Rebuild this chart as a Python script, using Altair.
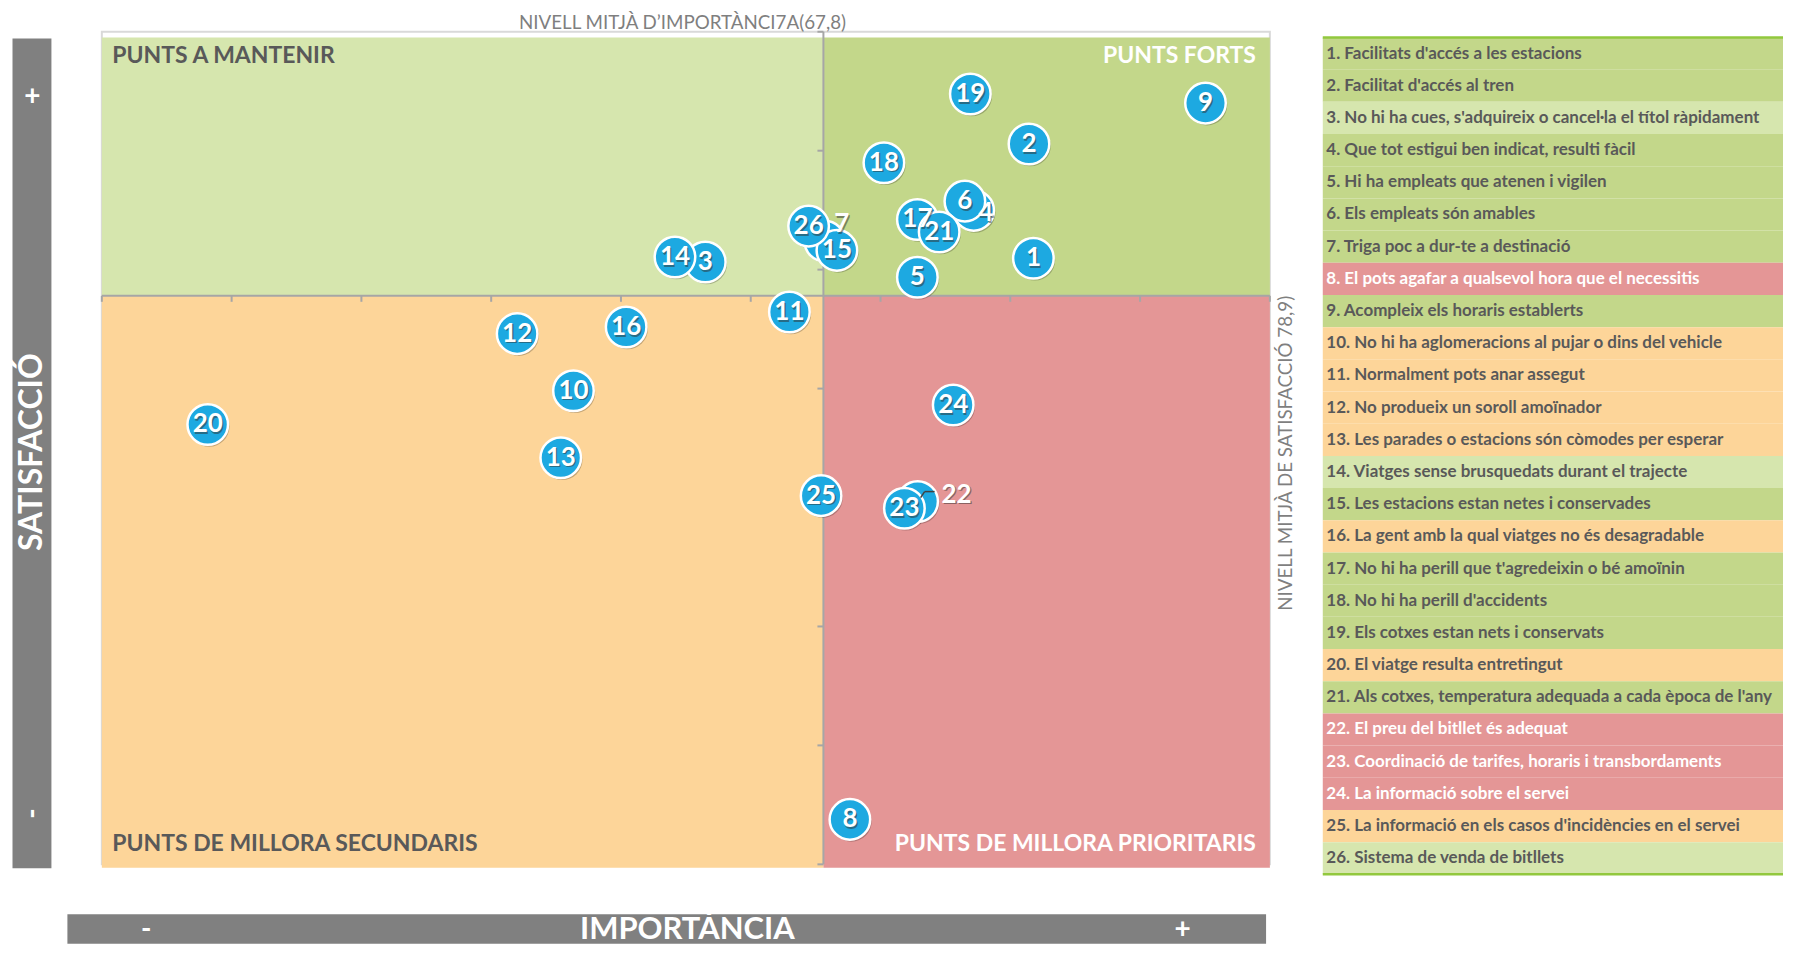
import altair as alt
import pandas as pd

# ---------------- data ----------------
item_ids = list(range(1, 27))
importance = [75.89, 75.72, 63.25, 73.59, 71.42, 73.25, 67.85, 68.82, 82.52, 58.17,
              66.49, 56.00, 57.68, 62.08, 68.32, 60.20, 71.42, 70.13, 73.46, 44.08,
              72.26, 71.43, 70.92, 72.80, 67.71, 67.23]
satisfaction = [80.48, 85.28, 80.32, 82.49, 79.68, 82.88, 81.20, 56.89, 87.00, 74.91,
                78.22, 77.31, 72.09, 80.53, 80.81, 77.59, 82.11, 84.49, 87.38, 73.49,
                81.58, 70.25, 69.97, 74.31, 70.50, 81.83]
descriptions = [
    "Facilitats d'accés a les estacions",
    "Facilitat d'accés al tren",
    "No hi ha cues, s'adquireix o cancel·la el títol ràpidament",
    "Que tot estigui ben indicat, resulti fàcil",
    "Hi ha empleats que atenen i vigilen",
    "Els empleats són amables",
    "Triga poc a dur-te a destinació",
    "El pots agafar a qualsevol hora que el necessitis",
    "Acompleix els horaris establerts",
    "No hi ha aglomeracions al pujar o dins del vehicle",
    "Normalment pots anar assegut",
    "No produeix un soroll amoïnador",
    "Les parades o estacions són còmodes per esperar",
    "Viatges sense brusquedats durant el trajecte",
    "Les estacions estan netes i conservades",
    "La gent amb la qual viatges no és desagradable",
    "No hi ha perill que t'agredeixin o bé amoïnin",
    "No hi ha perill d'accidents",
    "Els cotxes estan nets i conservats",
    "El viatge resulta entretingut",
    "Als cotxes, temperatura adequada a cada època de l'any",
    "El preu del bitllet és adequat",
    "Coordinació de tarifes, horaris i transbordaments",
    "La informació sobre el servei",
    "La informació en els casos d'incidències en el servei",
    "Sistema de venda de bitllets",
]
mean_importance = 67.8
mean_satisfaction = 78.9
x_domain = [40, 85]
y_domain = [55, 90]
x_ticks = [40, 45, 50, 55, 60, 65, 70, 75, 80, 85]
y_ticks = [55, 60, 65, 70, 75, 80, 85, 90]
quadrant_names = ["PUNTS A MANTENIR", "PUNTS FORTS",
                  "PUNTS DE MILLORA SECUNDARIS", "PUNTS DE MILLORA PRIORITARIS"]
x_title = "IMPORTÀNCIA"
y_title = "SATISFACCIÓ"
x_mean_label = "NIVELL MITJÀ D’IMPORTÀNCI7A(67,8)"
y_mean_label = "NIVELL MITJÀ DE SATISFACCIÓ 78,9)"

# ---------------- style ----------------
quadrant_colors = ["#D6E6AE", "#C3D78A", "#FDD599", "#E49696"]
FONT = "Lato"
DARK = "#595959"
LINE = "#A6A6A6"
BAR = "#808080"
BLUE = "#1DA9E1"
W, H = 1170, 834
LW, LH = 461, 845
label_nudge = {4: (12, 3), 7: (17, -17), 22: (39, -7)}


def quadrant(x, y):
    if y >= mean_satisfaction:
        return quadrant_names[1] if x >= mean_importance else quadrant_names[0]
    return quadrant_names[3] if x >= mean_importance else quadrant_names[2]


points = pd.DataFrame({"id": item_ids, "imp": importance, "sat": satisfaction})
points["quad"] = [quadrant(x, y) for x, y in zip(importance, satisfaction)]
points["lbl"] = points["id"].astype(str)

quads = pd.DataFrame({
    "quad": quadrant_names,
    "x": [x_domain[0], mean_importance, x_domain[0], mean_importance],
    "x2": [mean_importance, x_domain[1], mean_importance, x_domain[1]],
    "y": [y_domain[1], y_domain[1], mean_satisfaction, mean_satisfaction],
    "y2": [mean_satisfaction, mean_satisfaction, y_domain[0], y_domain[0]],
    "upper": [True, True, False, False],
})

xs = alt.Scale(domain=x_domain, nice=False, zero=False)
ys = alt.Scale(domain=y_domain, nice=False, zero=False)
cs = alt.Scale(domain=quadrant_names, range=quadrant_colors)
dummy = pd.DataFrame({"d": [0]})

x_axis = alt.Axis(values=x_ticks, title=None, domain=False, ticks=False, tickSize=0,
                  grid=False, labelFont=FONT, labelFontSize=16.5, labelColor=DARK,
                  labelPadding=28, labelBaseline="middle", labelFlush=False,
                  labelOverlap=False)
y_axis = alt.Axis(values=y_ticks, title=None, domain=False, ticks=False, tickSize=0,
                  grid=False, labelFont=FONT, labelFontSize=16.5, labelColor=DARK,
                  labelPadding=21, labelBaseline="middle", labelFlush=False,
                  labelOverlap=False)

# anchor so that the plot origin lands at the right spot on the page
anchor = alt.Chart(dummy).mark_rect(color="white").encode(
    x=alt.value(-92.5), x2=alt.value(-91.5), y=alt.value(-21.3), y2=alt.value(-20.3))

upper = alt.Chart(quads).transform_filter("datum.upper").mark_rect(yOffset=5.7).encode(
    x=alt.X("x:Q", scale=xs, axis=x_axis), x2="x2:Q",
    y=alt.Y("y:Q", scale=ys, axis=y_axis), y2="y2:Q",
    color=alt.Color("quad:N", scale=cs, legend=None))
lower = alt.Chart(quads).transform_filter("!datum.upper").mark_rect(y2Offset=3.4).encode(
    x=alt.X("x:Q", scale=xs, axis=None), x2="x2:Q",
    y=alt.Y("y:Q", scale=ys, axis=None), y2="y2:Q",
    color=alt.Color("quad:N", scale=cs, legend=None))

vline = alt.Chart(dummy).mark_rule(color=LINE, strokeWidth=2).encode(
    x=alt.XDatum(mean_importance, scale=xs, axis=None))
hline = alt.Chart(dummy).mark_rule(color=LINE, strokeWidth=2).encode(
    y=alt.YDatum(mean_satisfaction, scale=ys, axis=None))
xt = alt.Chart(pd.DataFrame({"v": x_ticks})).mark_rule(
    color=LINE, strokeWidth=2, y2Offset=6).encode(
    x=alt.X("v:Q", scale=xs, axis=None),
    y=alt.YDatum(mean_satisfaction, scale=ys, axis=None),
    y2=alt.Y2Datum(mean_satisfaction))
yt = alt.Chart(pd.DataFrame({"v": y_ticks})).mark_rule(
    color=LINE, strokeWidth=2, x2Offset=-6).encode(
    y=alt.Y("v:Q", scale=ys, axis=None),
    x=alt.XDatum(mean_importance, scale=xs, axis=None),
    x2=alt.X2Datum(mean_importance))

pos = dict(x=alt.X("imp:Q", scale=xs, axis=None), y=alt.Y("sat:Q", scale=ys, axis=None))
shadow = alt.Chart(points).mark_circle(size=1650, color="#000000", opacity=0.22,
                                       xOffset=1.5, yOffset=2).encode(**pos)
circles = alt.Chart(points).mark_circle(size=1650, color=BLUE, opacity=1,
                                        stroke="white", strokeWidth=2.5).encode(**pos)

# small leader line for the displaced label of item 22
leader_pt = points[points["id"] == 22]
leader1 = alt.Chart(leader_pt).mark_rule(
    color="#404040", strokeWidth=1.5, xOffset=3, yOffset=-4, x2Offset=7, y2Offset=-10).encode(
    x=pos["x"], y=pos["y"], x2="imp:Q", y2="sat:Q")
leader2 = alt.Chart(leader_pt).mark_rule(
    color="#404040", strokeWidth=1.5, xOffset=7, yOffset=-10, x2Offset=17, y2Offset=-10).encode(
    x=pos["x"], y=pos["y"], x2="imp:Q", y2="sat:Q")

text_layers = []
plain = points[~points["id"].isin(list(label_nudge))]
for df, dx, dy in [(plain, 0, 0)] + [
        (points[points["id"] == k], v[0], v[1]) for k, v in label_nudge.items()]:
    text_layers.append(alt.Chart(df).mark_text(
        font=FONT, fontWeight="bold", fontSize=26, color="#303030", opacity=0.5,
        baseline="middle", align="center", dx=dx + 1.3, dy=dy + 1.6).encode(
        text="lbl:N", **pos))
    text_layers.append(alt.Chart(df).mark_text(
        font=FONT, fontWeight="bold", fontSize=26, color="white",
        baseline="middle", align="center", dx=dx, dy=dy).encode(
        text="lbl:N", **pos))

# quadrant titles
qt = []
q_specs = [(quadrant_names[0], x_domain[0], y_domain[1], "left", 10.5, 24.4, DARK),
           (quadrant_names[1], x_domain[1], y_domain[1], "right", -14, 24.4, "white"),
           (quadrant_names[2], x_domain[0], y_domain[0], "left", 10.5, -20.5, DARK),
           (quadrant_names[3], x_domain[1], y_domain[0], "right", -14, -20.5, "white")]
for name, xv, yv, al, xo, yo, col in q_specs:
    qt.append(alt.Chart(dummy).mark_text(
        text=name, align=al, baseline="middle", font=FONT, fontWeight="bold",
        fontSize=23, color=col, xOffset=xo, yOffset=yo).encode(
        x=alt.XDatum(xv, scale=xs, axis=None), y=alt.YDatum(yv, scale=ys, axis=None)))

top_lbl = alt.Chart(dummy).mark_text(
    text=x_mean_label, align="right", baseline="middle", font=FONT, fontSize=18.8,
    color="#7F7F7F", xOffset=22.7, yOffset=-8.7).encode(
    x=alt.XDatum(mean_importance, scale=xs, axis=None),
    y=alt.YDatum(y_domain[1], scale=ys, axis=None))
right_lbl = alt.Chart(dummy).mark_text(
    text=y_mean_label, align="right", baseline="middle", angle=270, font=FONT,
    fontSize=18.8, color="#7F7F7F", xOffset=16).encode(
    x=alt.XDatum(x_domain[1], scale=xs, axis=None),
    y=alt.YDatum(mean_satisfaction, scale=ys, axis=None))

# grey title bars
ybar = alt.Chart(dummy).mark_rect(color=BAR).encode(
    x=alt.value(-89.5), x2=alt.value(-50.5), y=alt.value(6.7), y2=alt.value(838))
xbar = alt.Chart(dummy).mark_rect(color=BAR).encode(
    x=alt.value(-34.5), x2=alt.value(1166.2), y=alt.value(884), y2=alt.value(913.5))


def bar_text(txt, x, y, size, angle=0):
    return alt.Chart(dummy).mark_text(
        text=txt, font=FONT, fontWeight="bold", fontSize=size, color="white",
        align="center", baseline="middle", angle=angle).encode(
        x=alt.value(x), y=alt.value(y))


bar_texts = [
    bar_text("+", -69.5, 65, 28),
    bar_text(y_title, -70, 421, 32, 270),
    bar_text("-", -68.5, 783, 28, 270),
    bar_text("-", 44.5, 900, 28),
    bar_text(x_title, 586.5, 900, 31),
    bar_text("+", 1082.5, 900, 28),
]

main = alt.layer(
    anchor, upper, lower, vline, hline, xt, yt, shadow, circles, leader1, leader2,
    *text_layers, *qt, top_lbl, right_lbl, ybar, xbar, *bar_texts
).properties(width=W, height=H,
             view=alt.ViewBackground(stroke="#D9D9D9", strokeWidth=2))

# ---------------- legend table ----------------
leg = pd.DataFrame({
    "row": item_ids,
    "label": [f"{i}. {d}" for i, d in zip(item_ids, descriptions)],
    "quad": points["quad"],
})
leg["tcolor"] = ["white" if q == quadrant_names[3] else DARK for q in leg["quad"]]
ls = alt.Scale(domain=[0, 26], range=[5.7, 844], nice=False, zero=False)

leg_rect = alt.Chart(leg).transform_calculate(r0="datum.row - 1").mark_rect().encode(
    x=alt.value(0), x2=alt.value(LW),
    y=alt.Y("r0:Q", scale=ls, axis=None), y2="row:Q",
    color=alt.Color("quad:N", scale=cs, legend=None))
leg_text = alt.Chart(leg).transform_calculate(rc="datum.row - 0.5").mark_text(
    align="left", baseline="middle", font=FONT, fontWeight="bold", fontSize=17,
    limit=LW - 4).encode(
    x=alt.value(3.6), y=alt.Y("rc:Q", scale=ls, axis=None), text="label:N",
    color=alt.Color("tcolor:N", scale=None))
leg_lines = alt.Chart(pd.DataFrame({"v": [0, 26]})).mark_rule(
    color="#92C83E", strokeWidth=2.5).encode(
    x=alt.value(0), x2=alt.value(LW), y=alt.Y("v:Q", scale=ls, axis=None))

legend = alt.layer(leg_rect, leg_text, leg_lines).properties(
    width=LW, height=LH, view=alt.ViewBackground(stroke="transparent"))

chart = alt.hconcat(main, legend, spacing=53, bounds="flush").properties(
    padding=0).configure(font=FONT)

chart.save("out.html", embed_options={"renderer": "svg", "actions": False})
